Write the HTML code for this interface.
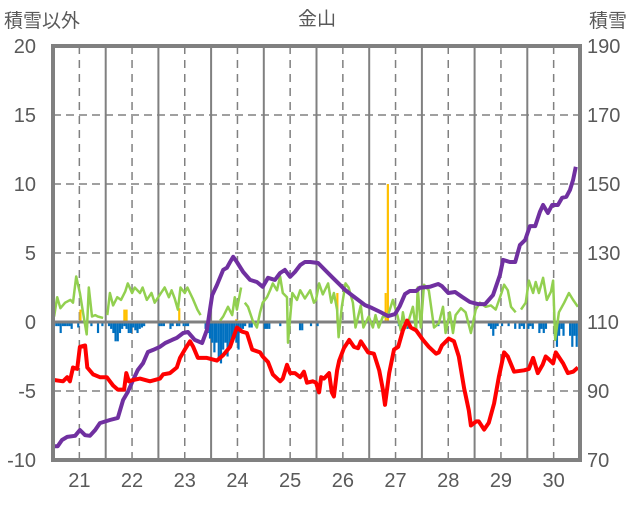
<!DOCTYPE html>
<html><head><meta charset="utf-8"><style>
body{margin:0;background:#fff;}
svg text{font-family:"Liberation Sans","Noto Sans CJK JP",sans-serif;fill:#595959;}
</style></head><body>
<svg id="chart" width="636" height="501" viewBox="0 0 636 501" xmlns="http://www.w3.org/2000/svg">
<g id="grid"></g>
<g id="marks"></g>
<g id="axes"></g>
<text x="317" y="25" font-size="19" text-anchor="middle">金山</text>
<text x="4" y="27" font-size="19">積雪以外</text>
<text x="589" y="27" font-size="19">積雪</text>
</svg>
<script>
const dayLabels=["21","22","23","24","25","26","27","28","29","30"];
const leftTicks=[20,15,10,5,0,-5,-10];
const rightTicks=[190,170,150,130,110,90,70];
const snowT=[20.50,20.59,20.67,20.77,20.92,21.01,21.11,21.20,21.30,21.39,21.58,21.73,21.83,21.92,22.02,22.11,22.21,22.30,22.40,22.53,22.63,22.76,22.85,22.97,23.06,23.19,23.33,23.42,23.52,23.61,23.73,23.80,23.86,23.92,23.99,24.11,24.24,24.37,24.48,24.58,24.71,24.81,24.90,25.00,25.09,25.19,25.28,25.38,25.53,25.66,25.81,25.95,26.04,26.17,26.29,26.42,26.55,26.71,26.86,26.99,27.08,27.18,27.27,27.39,27.46,27.65,27.81,27.88,28.00,28.13,28.26,28.41,28.56,28.70,28.85,28.98,29.04,29.17,29.27,29.36,29.46,29.55,29.65,29.74,29.80,29.89,29.97,30.08,30.16,30.24,30.31,30.37,30.42];
const snowV=[74.0,74.0,75.8,76.7,77.0,78.7,77.2,77.0,78.7,80.7,81.6,82.2,87.4,89.7,93.2,96.1,98.1,101.3,101.9,102.8,103.9,104.8,105.4,106.8,107.1,104.8,103.9,107.7,117.8,120.7,125.1,125.7,127.4,128.9,127.4,124.5,122.2,121.6,120.2,122.8,122.2,124.2,125.1,123.1,124.5,126.5,127.4,127.4,127.1,125.1,122.8,120.7,119.3,117.8,116.4,114.9,114.1,112.9,111.7,112.3,114.6,118.1,119.0,119.0,119.9,120.2,121.0,120.4,118.4,118.7,117.3,115.8,115.2,115.2,117.8,123.6,128.0,127.4,127.4,132.3,133.8,137.8,137.8,141.9,143.9,141.6,143.9,143.9,146.0,146.3,148.3,151.2,155.0];
const tempT=[20.52,20.69,20.77,20.82,20.88,20.96,21.01,21.11,21.15,21.26,21.39,21.52,21.64,21.73,21.85,21.89,21.94,22.02,22.15,22.34,22.53,22.59,22.72,22.85,22.91,23.00,23.10,23.16,23.25,23.42,23.61,23.73,23.86,23.99,24.09,24.18,24.28,24.43,24.48,24.58,24.67,24.81,24.86,24.94,25.00,25.09,25.19,25.26,25.32,25.43,25.49,25.55,25.59,25.64,25.74,25.79,25.83,25.89,25.93,26.02,26.12,26.21,26.29,26.34,26.48,26.59,26.69,26.76,26.80,26.88,26.97,27.05,27.14,27.22,27.29,27.39,27.52,27.63,27.77,27.82,27.88,28.01,28.11,28.20,28.30,28.39,28.43,28.53,28.58,28.68,28.77,28.87,28.96,29.06,29.13,29.25,29.44,29.53,29.61,29.70,29.79,29.85,29.91,29.99,30.04,30.18,30.27,30.37,30.46];
const tempV=[-4.2,-4.3,-4.0,-4.3,-3.3,-3.4,-1.8,-1.7,-3.3,-3.8,-4.0,-4.0,-4.6,-4.9,-4.9,-3.7,-4.3,-4.2,-4.1,-4.3,-4.1,-3.8,-3.7,-3.3,-2.6,-2.0,-1.4,-1.8,-2.6,-2.6,-2.8,-2.4,-1.8,-0.4,-0.7,-0.8,-2.0,-2.2,-2.5,-2.9,-3.8,-4.3,-4.1,-3.1,-3.7,-3.7,-4.0,-3.6,-4.4,-4.3,-4.4,-5.1,-4.0,-4.1,-3.7,-5.1,-5.4,-3.5,-2.8,-1.9,-1.3,-1.8,-1.9,-1.4,-2.2,-2.3,-3.5,-4.9,-6.0,-3.7,-2.0,-1.8,-0.6,0.1,-0.4,-0.6,-1.3,-1.8,-2.3,-2.2,-1.7,-1.2,-1.4,-2.5,-4.8,-6.4,-7.5,-7.2,-7.2,-7.8,-7.3,-5.9,-4.0,-2.2,-2.5,-3.6,-3.5,-3.4,-2.6,-3.7,-3.1,-2.5,-2.7,-3.0,-2.2,-3.0,-3.7,-3.6,-3.3];
const windT=[20.52,20.58,20.64,20.73,20.83,20.88,20.94,21.01,21.07,21.14,21.18,21.24,21.30,21.35,21.45,null,21.53,21.58,21.64,21.72,21.79,21.87,21.92,22.00,22.05,22.15,22.20,22.28,22.37,22.43,22.55,22.62,22.70,22.75,22.81,22.87,22.92,23.00,23.05,23.15,23.24,23.30,null,23.54,null,23.67,23.73,23.82,23.90,23.95,23.99,24.07,null,24.14,24.20,24.29,24.37,24.43,24.48,24.56,24.62,24.67,24.75,24.81,24.86,24.94,24.96,25.04,25.13,25.19,25.28,25.38,25.45,25.49,25.55,25.62,25.72,25.78,25.83,25.89,25.92,25.98,26.05,26.11,26.19,26.24,26.34,26.39,26.49,26.57,26.62,26.68,26.76,26.85,26.95,27.04,27.10,27.14,27.19,27.25,27.33,27.39,27.42,27.48,27.54,27.63,27.73,27.82,27.90,27.95,28.03,28.09,28.14,28.24,28.33,28.43,28.52,28.60,28.71,28.81,28.90,29.01,29.06,29.13,29.19,29.28,null,29.38,29.47,29.53,29.61,29.66,29.72,29.80,29.87,29.95,29.99,30.03,30.10,30.20,30.29,30.37,30.46];
const windV=[0.4,1.8,1.0,1.4,1.6,1.4,3.3,2.1,0.7,-0.9,2.5,0.4,0.5,0.4,0.3,null,0.5,2.1,1.2,1.8,1.6,2.2,2.8,2.1,2.5,2.1,2.5,1.6,2.1,1.4,2.1,2.5,1.8,2.3,1.7,0.9,2.5,2.1,2.5,1.7,0.9,0.5,null,0.5,null,0.1,0.4,1.1,0.5,1.8,0.9,2.5,null,1.4,1.1,0.1,-0.4,0.7,1.4,1.8,2.3,2.8,2.3,3.3,2.1,1.8,-1.5,2.1,1.6,2.3,1.7,2.3,1.4,1.6,2.8,2.0,2.8,1.4,2.1,0.9,-1.1,1.1,2.8,2.5,1.4,-0.4,1.2,-0.4,0.4,-0.4,0.5,-0.4,0.4,0.4,1.6,0.4,-0.6,0.7,-0.4,0.1,1.1,-0.6,2.5,-0.4,2.7,2.3,-0.4,-0.1,1.1,-0.8,0.7,-0.8,0.5,1.0,0.7,-0.8,0.9,1.4,1.1,1.2,0.9,2.1,2.7,2.3,1.1,0.7,null,0.9,1.4,3.0,2.1,2.9,2.1,3.2,1.6,2.2,3.0,-1.3,0.7,1.4,2.1,1.6,1.1];
const precip=[
0,-0.3,-0.3,-0.8,-0.3,-0.3,-0.3,-0.3,-0.5,0,0,-0.4,0,0,0,-0.4,0,-0.3,0,0,-0.8,0,-0.3,0,
0,-0.3,-0.5,-0.8,-1.4,-1.4,-0.8,-0.5,-0.3,-0.5,-0.8,-0.8,-0.4,-0.6,-0.8,-0.5,-0.4,-0.3,0,0,0,0,0,0,
-0.3,-0.3,-0.3,0,0,-0.5,-0.3,0,-0.3,-0.3,0,-0.3,-0.3,-0.3,0,0,0,0,0,0,0,-0.5,-0.8,-1.2,
-1.5,-2.2,-1.5,-2.8,-3.0,-2.0,-1.5,-2.5,-1.8,-1.2,-0.8,-1.5,-2.0,-0.8,-0.5,-0.3,0,-0.4,-0.4,0,0,0,0,0,
-0.5,-0.5,-0.5,0,0,0,0,-0.3,0,0,0,-0.6,0,0,0,0,-0.6,-0.6,0,0,0,-0.3,0,0,
-0.3,0,0,0,0,0,0,0,0,0,0,0,0,0,0,0,0,0,0,0,0,0,0,0,
0,0,0,0,0,0,0,0,0,0,0,0,0,-0.3,0,0,0,-0.5,0,0,0,0,0,0,
0,0,0,0,0,0,0,-0.3,0,0,0,0,0,0,0,0,0,0,0,0,0,0,0,0,
0,0,0,0,0,0,-0.3,-0.5,-1.0,-0.5,-0.3,0,-0.3,0,0,-0.3,0,0,-0.5,0,-0.5,-0.3,-0.5,0,
-0.5,-0.3,-0.5,0,0,-0.8,-0.5,-0.8,-0.5,0,0,0,-1.0,-1.8,-1.0,-0.5,-1.0,0,0,-1.0,-1.8,-1.0,-1.8,-1.0];
const melt=[
0,0,0,0,0,0,0,0,0,0,0,0,0.9,0,0,0,0,0,0,0,0,0,0,0,
0,0,0,0,0,0,0,0,0.9,0.9,0,0,0,0,0,0,0,0,0,0,0,0,0,0,
0,0,0,0,0,0,0,0,0,1.0,0,0,0,0,0,0,0,0,0,0,0,0,0,0,
0,0,0,0,0,0,0,0,0,0,0,0.2,0,0,0,0,0,0,0,0,0,0,0,0,
0,0,0,0,0,0,0,0,0,0,0,0,0,0,0,0,0,0,0,0,0,0,0,0,
0,0,0,0,0,0,0,0,0,2.1,0,0,0,0,0,0,0,0,0,0,0,0,0,0,
0,0,0,0,0,0,0,2.1,10,0,0,0,0,0,0,0,0,0,0,0,0,0,0,0,
0,0,0,0,0,0,0,0,0,0,0,0,0,0,0,0,0,0,0,0,0,0,0,0,
0,0,0,0,0,0,0,0,0,0,0,0,0,0,0,0,0,0,0,0,0,0,0,0,
0,0,0,0,0,0,0,0,0,0,0,0,0,0,0,0,0,0,0,0,0,0,0,0];

const NS="http://www.w3.org/2000/svg";
const L=53,R=580,T=46,B=460;
const D0=20.5,D1=30.5;
const xs=d=>L+(d-D0)/(D1-D0)*(R-L);
const yl=v=>T+(20-v)/30*(B-T);
const yr=v=>T+(190-v)/120*(B-T);
const hx=h=>xs(D0+h/24);
function mk(tag,attrs,parent){const e=document.createElementNS(NS,tag);for(const k in attrs)e.setAttribute(k,attrs[k]);parent.appendChild(e);return e;}
const grid=document.getElementById('grid'),marks=document.getElementById('marks'),axes=document.getElementById('axes');
leftTicks.forEach(v=>{if(v===20||v===-10||v===0)return;
 const l=mk('line',{x1:L,x2:R,y1:yl(v),y2:yl(v),stroke:'#808080','stroke-width':1.5,'stroke-dasharray':'8,5'},grid);
 
 });
for(let i=0;i<10;i++){
 const dash=mk('line',{x1:xs(21+i),x2:xs(21+i),y1:T,y2:B,stroke:'#808080','stroke-width':1.5,'stroke-dasharray':'8,6'},grid);
 
 
 if(i<9){const s=mk('line',{x1:xs(21.5+i),x2:xs(21.5+i),y1:T,y2:B,stroke:'#808080','stroke-width':2},grid);
 
 }
}
const bw=(R-L)/240;
precip.forEach((v,h)=>{if(!v)return;
 const r=mk('rect',{x:hx(h),y:yl(0),width:bw,height:yl(v)-yl(0),fill:'#0070C0'},marks);
 
 });
melt.forEach((v,h)=>{if(!v)return;
 const r=mk('rect',{x:hx(h),y:yl(v),width:bw,height:yl(0)-yl(v),fill:'#FFC000'},marks);
 
 });
const z=mk('line',{x1:L,x2:R,y1:yl(0),y2:yl(0),stroke:'#808080','stroke-width':3},marks);


function pathFrom(ts,vs,yf){let d='',pen=false;for(let i=0;i<ts.length;i++){if(ts[i]===null||vs[i]===null){pen=false;continue;}d+=(pen?'L':'M')+xs(ts[i]).toFixed(1)+','+yf(vs[i]).toFixed(1);pen=true;}return d;}
const g=mk('path',{d:pathFrom(windT,windV,yl),fill:'none',stroke:'#92D050','stroke-width':2.5,'stroke-linejoin':'round'},marks);


const p=mk('path',{d:pathFrom(snowT,snowV,yr),fill:'none',stroke:'#7030A0','stroke-width':4,'stroke-linejoin':'round'},marks);


const r=mk('path',{d:pathFrom(tempT,tempV,yl),fill:'none',stroke:'#FF0000','stroke-width':4,'stroke-linejoin':'round'},marks);


const f=mk('rect',{x:L,y:T,width:R-L,height:B-T,fill:'none',stroke:'#808080','stroke-width':4},axes);


leftTicks.forEach(v=>{const t=mk('text',{x:36,y:yl(v)+7,'font-size':20,'text-anchor':'end'},axes);t.textContent=v;
 
 });
rightTicks.forEach(v=>{const t=mk('text',{x:587,y:yr(v)+7,'font-size':20},axes);t.textContent=v;
 
 });
dayLabels.forEach((s,i)=>{const t=mk('text',{x:xs(21+i),y:487,'font-size':20,'text-anchor':'middle'},axes);t.textContent=s;
 
 });
</script>
</body></html>
